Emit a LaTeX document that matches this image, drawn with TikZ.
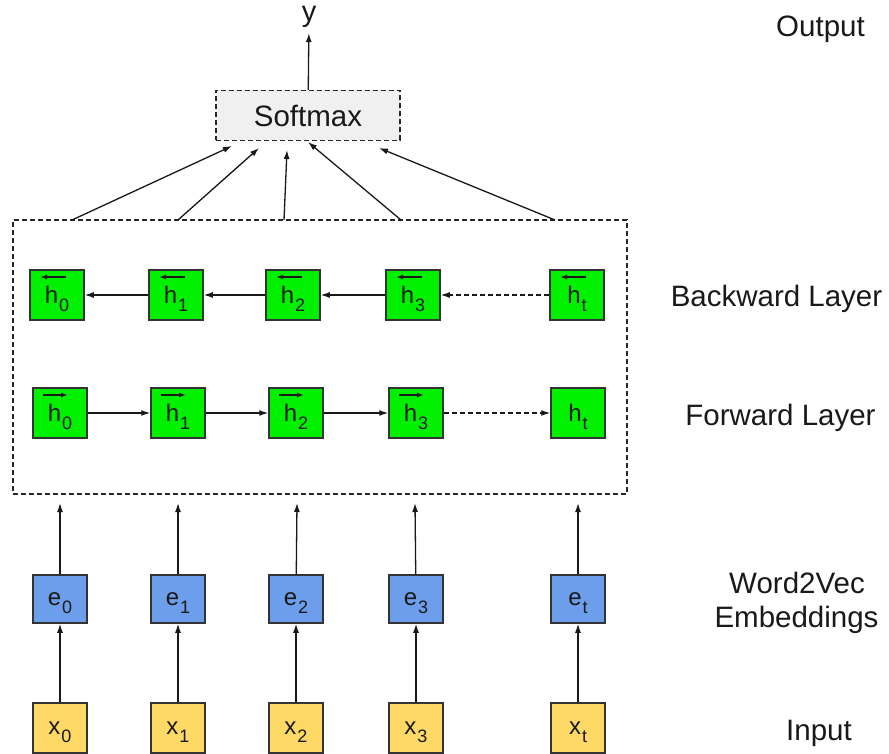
\documentclass[tikz,border=0pt]{standalone}
\usepackage{fontspec}
\setmainfont{Liberation Sans}
\usepackage{tikz}
\usetikzlibrary{arrows.meta}

\definecolor{hgreen}{HTML}{00F000}
\definecolor{eblue}{HTML}{6D9EEB}
\definecolor{xyellow}{HTML}{FFD966}

% index set low and small, as in the drawing
\newcommand{\idx}[1]{\kern1pt\raisebox{-8pt}[0pt][0pt]{\fontsize{18}{18}\selectfont #1}}

\begin{document}
\begin{tikzpicture}[x=1pt,y=-1pt,line width=1.3pt,
      every node/.style={font=\fontsize{24}{28}\selectfont,text=black!90},
      cell/.style={draw=black!80,line width=1.5pt,minimum width=54pt,minimum height=50pt,inner sep=0pt},
      hid/.style={cell,fill=hgreen},
      mini arrow/.style={line width=1.4pt,black!90,-{Latex[length=7pt,width=5pt]}},
      hback/.style={hid,path picture={\draw[mini arrow] ([xshift=9pt,yshift=18pt]path picture bounding box.center) -- ++(-26,0);}},
      hfwd/.style={hid,path picture={\draw[mini arrow] ([xshift=-17pt,yshift=18pt]path picture bounding box.center) -- ++(25,0);}},
      emb/.style={cell,fill=eblue,minimum height=48pt},
      inp/.style={cell,fill=xyellow},
      side/.style={font=\fontsize{29.5}{37}\selectfont,anchor=base},
      dash box/.style={draw=black!85,dash pattern=on 5pt off 3pt},
      conn/.style={black!90,-{Latex[length=9pt,width=6pt]}},
      dash conn/.style={conn,dash pattern=on 5pt off 3pt}]
    \useasboundingbox (0,0) rectangle (889,754);

    % output side
    \node[font=\fontsize{29}{34}\selectfont,anchor=base,inner sep=1pt] (y) at (309,21.5) {y};
    \node[dash box,fill=black!6,minimum width=184pt,minimum height=50pt,
          font=\fontsize{29.5}{34}\selectfont] (soft) at (308,115.5) {Softmax};
    \draw[conn,shorten >=4pt] (soft) -- (y);

    % bidirectional layers
    \node[dash box,minimum width=614pt,minimum height=274pt] (rnn) at (320,357) {};

    \node[hback] (b0) at (57,295) {h\idx{0}};
    \node[hback] (b1) at (176,295) {h\idx{1}};
    \node[hback] (b2) at (293,295) {h\idx{2}};
    \node[hback] (b3) at (413,295) {h\idx{3}};
    \node[hback] (bt) at (577,295) {h\idx{t}};

    \node[hfwd] (f0) at (60,413) {h\idx{0}};
    \node[hfwd] (f1) at (178,413) {h\idx{1}};
    \node[hfwd] (f2) at (296,413) {h\idx{2}};
    \node[hfwd] (f3) at (416,413) {h\idx{3}};
    \node[hid] (ft) at (578,413) {h\idx{t}};

    \draw[conn] (b1) -- (b0);
    \draw[conn] (b2) -- (b1);
    \draw[conn] (b3) -- (b2);
    \draw[dash conn] (bt) -- (b3);
    \draw[conn] (f0) -- (f1);
    \draw[conn] (f1) -- (f2);
    \draw[conn] (f2) -- (f3);
    \draw[dash conn] (f3) -- (ft);

    % into softmax
    \coordinate (s0) at (72,220);
    \coordinate (s1) at (178,220);
    \coordinate (s2) at (284,220);
    \coordinate (s3) at (401,220);
    \coordinate (s4) at (555,220);
    \coordinate (t0) at (232,146);
    \coordinate (t1) at (259,148);
    \coordinate (t2) at (287,150);
    \coordinate (t3) at (308,142);
    \coordinate (t4) at (379,148);
    \draw[conn] (s0) -- (t0);
    \draw[conn] (s1) -- (t1);
    \draw[conn] (s2) -- (t2);
    \draw[conn] (s3) -- (t3);
    \draw[conn] (s4) -- (t4);

    % embeddings and inputs
    \node[emb] (e0) at (60,599) {e\idx{0}};
    \node[emb] (e1) at (178,599) {e\idx{1}};
    \node[emb] (e2) at (296,599) {e\idx{2}};
    \node[emb] (e3) at (416,599) {e\idx{3}};
    \node[emb] (et) at (578,599) {e\idx{t}};

    \node[inp] (x0) at (60,728) {x\idx{0}};
    \node[inp] (x1) at (178,728) {x\idx{1}};
    \node[inp] (x2) at (296,728) {x\idx{2}};
    \node[inp] (x3) at (416,728) {x\idx{3}};
    \node[inp] (xt) at (578,728) {x\idx{t}};

    \coordinate (u0) at (60,503);
    \coordinate (u1) at (178,503);
    \coordinate (u2) at (297,503);
    \coordinate (u3) at (415,503);
    \coordinate (u4) at (578,503);
    \draw[conn] (e0) -- (u0);
    \draw[conn] (e1) -- (u1);
    \draw[conn] (e2) -- (u2);
    \draw[conn] (e3) -- (u3);
    \draw[conn] (et) -- (u4);

    \draw[conn] (x0) -- (e0);
    \draw[conn] (x1) -- (e1);
    \draw[conn] (x2) -- (e2);
    \draw[conn] (x3) -- (e3);
    \draw[conn] (xt) -- (et);

    % layer names
    \node[side] (lout) at (820.5,37) {Output};
    \node[side] (lback) at (776.5,306) {Backward Layer};
    \node[side] (lfwd) at (780.5,425) {Forward Layer};
    \node[side] (lemb) at (797,593) {Word2Vec};
    \node[side] (lemb2) at (796.5,627) {Embeddings};
    \node[side] (lin) at (819,740) {Input};
  \end{tikzpicture}
\end{document}
